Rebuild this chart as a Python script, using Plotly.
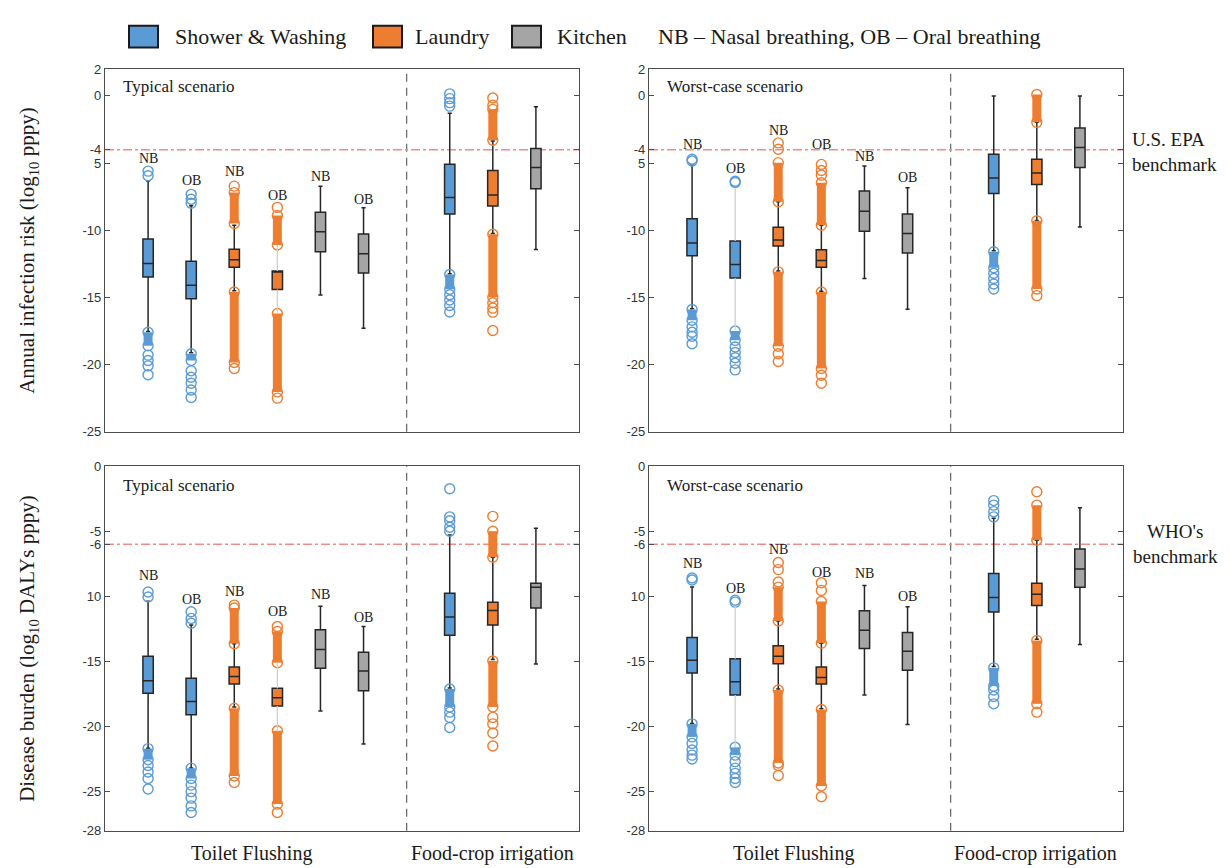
import plotly.graph_objects as go

# ---------------- data ----------------
POSITIONS = [1, 2, 3, 4, 5, 6, 8, 9, 10]
GROUPS = ["Shower & Washing", "Shower & Washing", "Laundry", "Laundry", "Kitchen", "Kitchen",
          "Shower & Washing", "Laundry", "Kitchen"]
BREATH = ["NB", "OB", "NB", "OB", "NB", "OB", "", "", ""]
LEGEND_NAMES = ["Shower & Washing", "Laundry", "Kitchen"]

# Top-left: annual infection risk, typical scenario
TL_Q3 = [-10.66, -12.31, -11.41, -13.04, -8.66, -10.29, -5.09, -5.55, -3.92]
TL_MED = [-12.48, -14.09, -12.19, -13.05, -10.12, -11.75, -7.57, -7.37, -5.33]
TL_Q1 = [-13.48, -15.11, -12.75, -14.41, -11.60, -13.19, -8.79, -8.20, -6.91]
TL_HI = [-6.33, -8.17, -9.63, -11.10, -6.72, -8.32, -1.29, -3.36, -0.80]
TL_LO = [-17.55, -19.12, -14.50, -16.20, -14.82, -17.30, -13.24, -10.25, -11.44]
TL_OUT = [[-5.6, -5.95, -19.3, -19.7, -20.1, -20.76],
          [-7.33, -7.69, -7.99, -20.47, -20.95, -21.4, -21.9, -22.46],
          [-6.72, -20.3],
          [-8.3, -22.5],
          [], [],
          [0.15, -0.2, -0.5, -0.76, -14.8, -15.2, -15.6, -16.09],
          [-0.15, -0.7, -15.4, -15.8, -16.1, -17.47],
          []]
TL_DENSE = [[(-17.6, -18.6)], [(-19.2, -19.7)], [(-7.2, -9.5), (-14.6, -19.85)],
            [(-8.9, -11.1), (-16.2, -22.04)], [], [], [(-13.3, -14.4)],
            [(-1.0, -3.3), (-10.3, -15.0)], []]
TL_LABEL_Y = [-4.65, -6.31, -5.62, -7.40, -5.99, -7.69]

# Top-right: annual infection risk, worst-case scenario
TR_Q3 = [-9.15, -10.80, -9.78, -11.46, -7.08, -8.79, -4.34, -4.72, -2.39]
TR_MED = [-10.95, -12.55, -10.73, -12.26, -8.59, -10.25, -6.11, -5.74, -3.85]
TR_Q1 = [-11.90, -13.55, -11.17, -12.75, -10.07, -11.70, -7.26, -6.60, -5.33]
TR_HI = [-5.14, -6.84, -7.88, -9.63, -5.21, -6.84, 0.0, -1.97, 0.0]
TR_LO = [-15.84, -17.42, -13.04, -14.55, -13.60, -15.89, -11.53, -9.27, -9.76]
TR_OUT = [[-4.72, -4.85, -17.2, -17.6, -17.9, -18.45],
          [-6.35, -6.45, -18.7, -19.1, -19.5, -19.9, -20.4],
          [-3.5, -3.97, -19.2, -19.78],
          [-5.1, -5.55, -5.9, -20.8, -21.4],
          [], [],
          [-13.2, -13.6, -14.0, -14.38],
          [-14.87],
          []]
TR_DENSE = [[(-15.9, -16.7)], [(-17.5, -18.2)], [(-4.97, -7.88), (-13.1, -18.64)],
            [(-6.47, -9.63), (-14.6, -20.3)], [], [], [(-11.6, -12.8)],
            [(0.1, -1.97), (-9.3, -14.38)], []]
TR_LABEL_Y = [-3.63, -5.38, -2.58, -3.63, -4.53, -6.04]

# Bottom-left: disease burden, typical scenario
BL_Q3 = [-14.60, -16.29, -15.43, -17.07, -12.58, -14.29, -9.77, -10.45, -9.00]
BL_MED = [-16.49, -18.08, -16.16, -17.80, -14.09, -15.73, -11.60, -11.10, -9.30]
BL_Q1 = [-17.45, -19.09, -16.74, -18.43, -15.53, -17.25, -13.00, -12.20, -10.90]
BL_HI = [-10.38, -12.20, -13.64, -15.10, -10.76, -12.32, -5.30, -7.00, -4.77]
BL_LO = [-21.67, -23.18, -18.50, -20.33, -18.81, -21.34, -17.05, -14.85, -15.20]
BL_OUT = [[-9.67, -10.05, -23.0, -23.5, -24.0, -24.8],
          [-11.19, -11.7, -12.07, -24.5, -25.0, -25.5, -26.1, -26.6],
          [-10.68, -24.3],
          [-12.32, -26.6],
          [], [],
          [-1.74, -3.9, -4.2, -4.7, -5.0, -18.9, -19.3, -20.08],
          [-3.86, -19.3, -19.8, -20.5, -21.5],
          []]
BL_DENSE = [[(-21.7, -22.55)], [(-23.2, -24.0)], [(-10.9, -13.64), (-18.6, -23.8)],
            [(-12.7, -15.1), (-20.33, -25.96)], [], [], [(-17.12, -18.5)],
            [(-5.0, -7.0), (-14.97, -18.5)], []]
BL_LABEL_Y = [-8.41, -10.25, -9.67, -11.19, -9.87, -11.64]

# Bottom-right: disease burden, worst-case scenario
BR_Q3 = [-13.16, -14.80, -13.79, -15.43, -11.11, -12.78, -8.26, -9.00, -6.36]
BR_MED = [-14.92, -16.57, -14.60, -16.24, -12.60, -14.22, -10.10, -9.85, -7.90]
BR_Q1 = [-15.90, -17.58, -15.18, -16.74, -14.02, -15.68, -11.20, -10.70, -9.30]
BR_HI = [-9.29, -10.73, -11.90, -13.60, -9.17, -10.81, -4.00, -5.70, -3.20]
BR_LO = [-19.77, -21.59, -17.12, -18.64, -17.58, -19.85, -15.40, -13.30, -13.70]
BR_OUT = [[-8.6, -8.75, -21.3, -21.8, -22.2, -22.5],
          [-10.3, -10.45, -22.7, -23.2, -23.6, -24.0, -24.3],
          [-7.4, -7.95, -8.9, -23.0, -23.76],
          [-8.96, -9.55, -25.4],
          [], [],
          [-2.65, -3.0, -3.5, -3.9, -17.2, -17.7, -18.26],
          [-1.97, -18.9],
          []]
BR_DENSE = [[(-19.8, -20.8)], [(-21.6, -22.2)], [(-9.3, -11.9), (-17.2, -22.8)],
            [(-10.4, -13.6), (-18.7, -24.57)], [], [], [(-15.5, -16.9)],
            [(-3.0, -5.7), (-13.4, -18.26)], []]
BR_LABEL_Y = [-7.45, -9.37, -6.44, -8.21, -8.28, -10.05]

# boxes whose whiskers are drawn faint in the original
TL_LIGHT = [3]
TR_LIGHT = [1]
BL_LIGHT = [3]
BR_LIGHT = [1]

TOP_TICKVALS = [2, 0, -4, -5, -10, -15, -20, -25]
TOP_TICKTEXT = ["2", "0", "-4", "5", "-10", "-15", "-20", "-25"]
BOT_TICKVALS = [0, -5, -6, -10, -15, -20, -25, -28]
BOT_TICKTEXT = ["0", "-5", "-6", "10", "-15", "-20", "-25", "-28"]
EPA_BENCHMARK = -4
WHO_BENCHMARK = -6
SEPARATOR_X = 7

# ---------------- style ----------------
W, H = 1229, 868
COLOR = {"Shower & Washing": "#5b9bd5", "Laundry": "#ed7d31", "Kitchen": "#a5a5a5"}
SERIF = "Liberation Serif, Times New Roman, serif"
SANS = "Liberation Sans, Arial, sans-serif"


def px(x):
    return x / W


def py(y):
    return 1 - y / H


fig = go.Figure()


def add_panel(xa, ya, q3, med, q1, hi, lo, out, dense, laby, light):
    for i, pos in enumerate(POSITIONS):
        c = COLOR[GROUPS[i]]
        # dense outlier clusters
        for (a, b) in dense[i]:
            fig.add_trace(go.Scatter(
                x=[pos, pos], y=[a, b], mode="lines+markers", xaxis=xa, yaxis=ya,
                line=dict(color=c, width=9),
                marker=dict(symbol="circle-open", size=10, color=c, line=dict(width=1.4)),
                showlegend=False, hoverinfo="skip"))
        if out[i]:
            fig.add_trace(go.Scatter(
                x=[pos] * len(out[i]), y=out[i], mode="markers", xaxis=xa, yaxis=ya,
                marker=dict(symbol="circle-open", size=10, color=c, line=dict(width=1.4)),
                showlegend=False, hoverinfo="skip"))
        if i in light:
            for (a, b) in [(q3[i], hi[i]), (q1[i], lo[i])]:
                fig.add_trace(go.Scatter(
                    x=[pos, pos], y=[a, b], mode="lines", xaxis=xa, yaxis=ya,
                    line=dict(color="#d0d0d0", width=1.3),
                    showlegend=False, hoverinfo="skip"))
            uf, lf = q3[i], q1[i]
        else:
            uf, lf = hi[i], lo[i]
        fig.add_trace(go.Box(
            x=[pos], q1=[q1[i]], median=[med[i]], q3=[q3[i]],
            lowerfence=[lf], upperfence=[uf], orientation="v",
            width=0.24, whiskerwidth=0.4, boxpoints=False,
            fillcolor=c, line=dict(color="#262626", width=1.5),
            xaxis=xa, yaxis=ya, showlegend=False, hoverinfo="skip"))
    for i in range(6):
        fig.add_annotation(x=POSITIONS[i], y=laby[i], xref=xa, yref=ya, text=BREATH[i],
                           showarrow=False, font=dict(family=SERIF, size=14, color="#1a1a1a"))


add_panel("x", "y", TL_Q3, TL_MED, TL_Q1, TL_HI, TL_LO, TL_OUT, TL_DENSE, TL_LABEL_Y, TL_LIGHT)
add_panel("x2", "y2", TR_Q3, TR_MED, TR_Q1, TR_HI, TR_LO, TR_OUT, TR_DENSE, TR_LABEL_Y, TR_LIGHT)
add_panel("x3", "y3", BL_Q3, BL_MED, BL_Q1, BL_HI, BL_LO, BL_OUT, BL_DENSE, BL_LABEL_Y, BL_LIGHT)
add_panel("x4", "y4", BR_Q3, BR_MED, BR_Q1, BR_HI, BR_LO, BR_OUT, BR_DENSE, BR_LABEL_Y, BR_LIGHT)

# ---------------- axes ----------------
LEFT_X = [px(97), px(571)]
RIGHT_X = [px(641), px(1115)]
TOP_Y = [py(424), py(55)]
BOT_Y = [py(830), py(459)]

xcommon = dict(range=[0, 11], showticklabels=False, ticks="", showgrid=False, zeroline=False,
               showline=True, linecolor="#4d4d4d", linewidth=1.3, mirror=True)
ycommon = dict(showgrid=False, zeroline=False, showline=True, linecolor="#4d4d4d", linewidth=1.3,
               mirror="ticks", ticks="inside", ticklen=5, tickcolor="#4d4d4d",
               tickfont=dict(family=SANS, size=13, color="#333333"))

fig.update_layout(
    width=W, height=H, margin=dict(l=0, r=0, t=0, b=0),
    paper_bgcolor="white", plot_bgcolor="white", showlegend=False,
    xaxis=dict(domain=LEFT_X, anchor="y", **xcommon),
    xaxis2=dict(domain=RIGHT_X, anchor="y2", **xcommon),
    xaxis3=dict(domain=LEFT_X, anchor="y3", **xcommon),
    xaxis4=dict(domain=RIGHT_X, anchor="y4", **xcommon),
    yaxis=dict(domain=TOP_Y, anchor="x", range=[-25, 2], tickvals=TOP_TICKVALS,
               ticktext=TOP_TICKTEXT, **ycommon),
    yaxis2=dict(domain=TOP_Y, anchor="x2", range=[-25, 2], tickvals=TOP_TICKVALS,
                ticktext=TOP_TICKTEXT, **ycommon),
    yaxis3=dict(domain=BOT_Y, anchor="x3", range=[-28, 0], tickvals=BOT_TICKVALS,
                ticktext=BOT_TICKTEXT, **ycommon),
    yaxis4=dict(domain=BOT_Y, anchor="x4", range=[-28, 0], tickvals=BOT_TICKVALS,
                ticktext=BOT_TICKTEXT, **ycommon),
)

# separators and benchmark lines
for xa, ya, bench in [("x", "y", EPA_BENCHMARK), ("x2", "y2", EPA_BENCHMARK),
                      ("x3", "y3", WHO_BENCHMARK), ("x4", "y4", WHO_BENCHMARK)]:
    fig.add_shape(type="line", xref=xa, yref=ya + " domain", x0=SEPARATOR_X, x1=SEPARATOR_X,
                  y0=0, y1=1, line=dict(color="#6e6e6e", width=1.3, dash="8px,6px"), layer="below")
    fig.add_shape(type="line", xref=xa + " domain", yref=ya, x0=0, x1=1, y0=bench, y1=bench,
                  line=dict(color="#f28b8b", width=1.5, dash="dashdot"), layer="below")

# scenario labels
for xa, ya, txt, yy in [("x", "y", "Typical scenario", 0.951), ("x2", "y2", "Worst-case scenario", 0.951),
                        ("x3", "y3", "Typical scenario", 0.946), ("x4", "y4", "Worst-case scenario", 0.946)]:
    fig.add_annotation(xref=xa + " domain", yref=ya + " domain", x=0.033, y=yy, text=txt,
                       xanchor="left", yanchor="middle", showarrow=False,
                       font=dict(family=SERIF, size=17, color="#1a1a1a"))

# x category labels
for cx, txt in [(243, "Toilet Flushing"), (484, "Food-crop irrigation"),
                (786, "Toilet Flushing"), (1027, "Food-crop irrigation")]:
    fig.add_annotation(xref="paper", yref="paper", x=px(cx), y=py(853), text=txt,
                       showarrow=False, xanchor="center", yanchor="middle",
                       font=dict(family=SERIF, size=20, color="#1a1a1a"))

# y titles
fig.add_annotation(xref="paper", yref="paper", x=px(20), y=py(240), textangle=-90,
                   xanchor="center", yanchor="middle",
                   text="Annual infection risk (log<sub>10</sub> pppy)", showarrow=False,
                   font=dict(family=SERIF, size=21, color="#1a1a1a"))
fig.add_annotation(xref="paper", yref="paper", x=px(20), y=py(645), textangle=-90,
                   xanchor="center", yanchor="middle",
                   text="Disease burden (log<sub>10</sub> DALYs pppy)", showarrow=False,
                   font=dict(family=SERIF, size=21, color="#1a1a1a"))

# benchmark notes
fig.add_annotation(xref="paper", yref="paper", x=px(1122), y=py(139), text="U.S. EPA<br>benchmark",
                   showarrow=False, xanchor="left", yanchor="middle", align="left",
                   font=dict(family=SERIF, size=19, color="#1a1a1a"))
fig.add_annotation(xref="paper", yref="paper", x=px(1167), y=py(538), text="WHO's<br>benchmark",
                   showarrow=False, xanchor="center", yanchor="middle", align="center",
                   font=dict(family=SERIF, size=19, color="#1a1a1a"))

# legend
for name, x0, tx in [(LEGEND_NAMES[0], 121, 165), (LEGEND_NAMES[1], 365, 405), (LEGEND_NAMES[2], 504, 547)]:
    fig.add_shape(type="rect", xref="paper", yref="paper", x0=px(x0), x1=px(x0 + 29),
                  y0=py(33), y1=py(11), fillcolor=COLOR[name], line=dict(color="#1a1a1a", width=2))
    fig.add_annotation(xref="paper", yref="paper", x=px(tx), y=py(22), text=name, showarrow=False,
                       xanchor="left", yanchor="middle", font=dict(family=SERIF, size=22, color="#1a1a1a"))
fig.add_annotation(xref="paper", yref="paper", x=px(648), y=py(22),
                   text="NB \u2013 Nasal breathing, OB \u2013 Oral breathing", showarrow=False,
                   xanchor="left", yanchor="middle", font=dict(family=SERIF, size=22, color="#1a1a1a"))

fig.write_html("out.html")
